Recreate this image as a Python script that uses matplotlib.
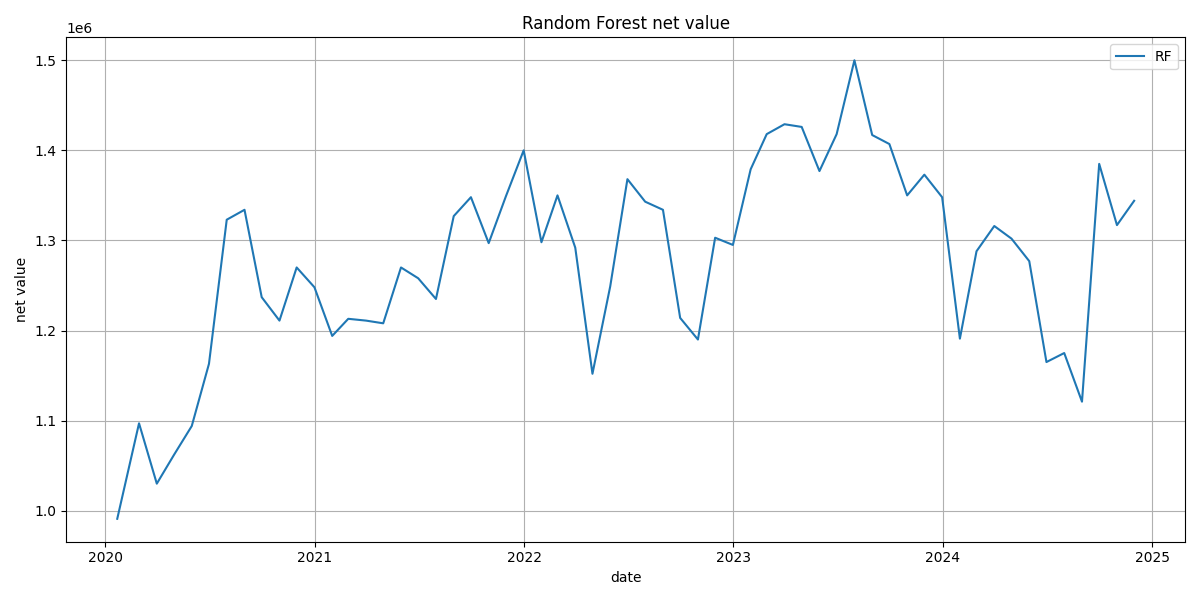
import matplotlib
matplotlib.use("Agg")
import matplotlib.pyplot as plt
import pandas as pd

first_date = "2020-01-22"
month_end_start = "2020-02-29"
n_month_end = 58

rf_values_m = [
    0.991, 1.097, 1.030, 1.062, 1.094, 1.163, 1.323, 1.334, 1.237, 1.211,
    1.270, 1.248, 1.194, 1.213, 1.211, 1.208, 1.270, 1.258, 1.235, 1.327,
    1.348, 1.297, 1.349, 1.400, 1.298, 1.350, 1.292, 1.152, 1.249, 1.368,
    1.343, 1.334, 1.214, 1.190, 1.303, 1.295, 1.379, 1.418, 1.429, 1.426,
    1.377, 1.418, 1.500, 1.417, 1.407, 1.350, 1.373, 1.348, 1.191, 1.288,
    1.316, 1.302, 1.277, 1.165, 1.175, 1.121, 1.385, 1.317, 1.344,
]
rf_values = [v * 1e6 for v in rf_values_m]

dates = [pd.Timestamp(first_date)] + list(pd.date_range(month_end_start, periods=n_month_end, freq="ME"))
dates = dates[:len(rf_values)]

fig, ax = plt.subplots(figsize=(12, 6), dpi=100)
ax.plot(dates, rf_values, label="RF", color="#1f77b4")
ax.set_title("Random Forest net value")
ax.set_xlabel("date")
ax.set_ylabel("net value")
ax.grid(True)
ax.legend(loc="upper right")
fig.tight_layout()
fig.savefig("out.png", dpi=100)
